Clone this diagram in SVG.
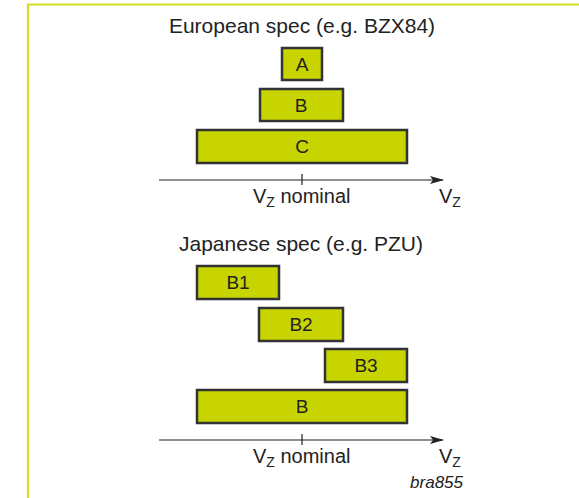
<svg xmlns="http://www.w3.org/2000/svg" width="579" height="498" viewBox="0 0 579 498">
<defs>
<style>
.t{font-family:"Liberation Sans",Arial,sans-serif;fill:#222;}
.title{font-size:21px;}
.lbl{font-size:19px;text-anchor:middle;}
.ax{font-size:20px;}
.sub{font-size:14px;}
.box{fill:#c8d400;stroke:#333;stroke-width:2.5;}
.axis{stroke:#222;stroke-width:1.2;fill:none;}
</style>
<marker id="arr" markerWidth="14" markerHeight="8" refX="13" refY="4" orient="auto" markerUnits="userSpaceOnUse">
<path d="M0,0 L14,4 L0,8 L3,4 Z" fill="#222"/>
</marker>
</defs>
<rect width="579" height="498" fill="#fff"/>
<path d="M28,498 V4.5 H579" fill="none" stroke="#d6de23" stroke-width="2.2"/>

<text class="t title" x="302" y="33" text-anchor="middle">European spec (e.g. BZX84)</text>
<text class="t title" x="301" y="251" text-anchor="middle">Japanese spec (e.g. PZU)</text>

<g id="nodeA"><rect class="box" x="282" y="48" width="40" height="32"/><text class="t lbl" x="302" y="71">A</text></g>
<g id="nodeB"><rect class="box" x="260" y="89" width="83" height="32"/><text class="t lbl" x="301" y="112">B</text></g>
<g id="nodeC"><rect class="box" x="197" y="130" width="210" height="33"/><text class="t lbl" x="302" y="153">C</text></g>

<g id="nodeB1"><rect class="box" x="197" y="266" width="82" height="33"/><text class="t lbl" x="238" y="289">B1</text></g>
<g id="nodeB2"><rect class="box" x="259" y="308" width="84" height="33"/><text class="t lbl" x="301" y="331">B2</text></g>
<g id="nodeB3"><rect class="box" x="325" y="349" width="82" height="33"/><text class="t lbl" x="366" y="372">B3</text></g>
<g id="nodeBall"><rect class="box" x="197" y="390" width="210" height="33"/><text class="t lbl" x="302" y="413">B</text></g>

<g id="connectors">
<line class="axis" x1="159" y1="180" x2="443" y2="180" marker-end="url(#arr)"/>
<line class="axis" x1="302" y1="174" x2="302" y2="185"/>
<line class="axis" x1="159" y1="440" x2="443" y2="440" marker-end="url(#arr)"/>
<line class="axis" x1="302" y1="434" x2="302" y2="445"/>
</g>

<text class="t ax" x="253" y="203">V<tspan class="sub" dy="4">Z</tspan><tspan dy="-4"> nominal</tspan></text>
<text class="t ax" x="439" y="203">V<tspan class="sub" dy="4">Z</tspan></text>
<text class="t ax" x="253" y="463">V<tspan class="sub" dy="4">Z</tspan><tspan dy="-4"> nominal</tspan></text>
<text class="t ax" x="439" y="463">V<tspan class="sub" dy="4">Z</tspan></text>
<text class="t" x="463" y="488" text-anchor="end" font-size="17" font-style="italic" fill="#444">bra855</text>
</svg>
